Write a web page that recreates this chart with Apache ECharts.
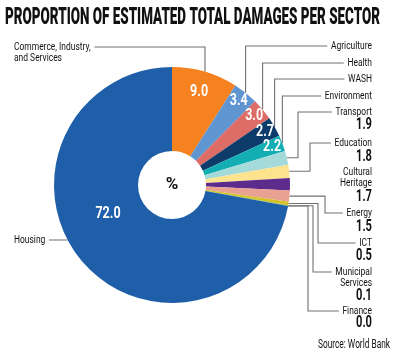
<!DOCTYPE html>
<html><head><meta charset="utf-8">
<script src="https://cdn.jsdelivr.net/npm/echarts@6/dist/echarts.min.js"></script>
<style>html,body{margin:0;padding:0;background:#fff}#c{width:400px;height:359px}</style>
</head><body><div id="c"></div><script>
// ---- data ----
const categories = ['Commerce, Industry, and Services','Agriculture','Health','WASH','Environment','Transport','Education','Cultural Heritage','Energy','ICT','Municipal Services','Finance','Housing'];
const values = [9.0, 3.4, 3.0, 2.7, 2.2, 1.9, 1.8, 1.7, 1.5, 0.5, 0.1, 0.0, 72.0];
const labelNames = [['Commerce, Industry,','and Services'],['Agriculture'],['Health'],['WASH'],['Environment'],['Transport'],['Education'],['Cultural','Heritage'],['Energy'],['ICT'],['Municipal','Services'],['Finance'],['Housing']];
const titleText = 'PROPORTION OF ESTIMATED TOTAL DAMAGES PER SECTOR';
const sourceText = 'Source: World Bank';
const centerText = '%';

// ---- styles / layout ----
const colors = ['#f5821f','#5f96d2','#dd6b66','#0d3c6b','#13aeb3','#a5dada','#fde38d','#5c2b8c','#e9a192','#d6c12a','#8bbf3a','#444444','#1f5faa'];
const FONT = 'Roboto, "Noto Sans", sans-serif';
const place = [
  {type:'left', y:47, inner:97},
  {type:'up', y:46, inner:107},
  {type:'up', y:63, inner:107},
  {type:'up', y:79, inner:107},
  {type:'up', y:96, inner:107},
  {type:'elbow', y:112, vy:125, vx:298},
  {type:'elbow', y:143, vy:157, vx:310},
  {type:'none', y:172, vy:197},
  {type:'elbow', y:213, vy:227, vx:325},
  {type:'elbow', y:243, vy:256, vx:318},
  {type:'elbow', y:272, vy:296, vx:313},
  {type:'elbow', y:311, vy:323, vx:308},
  {type:'housing', y:240}
];
const RIGHT_X = 372, LEFT_X = 14;

// condensing factors from measured target widths
const cv = document.createElement('canvas').getContext('2d');
function meas(font, t){ cv.font = font; return cv.measureText(t).width; }
const F_NAME = '11.5px ' + FONT, F_VAL = 'bold 17px ' + FONT, F_IN = 'bold 16px ' + FONT, F_TITLE = '900 23px ' + FONT, F_SRC = '12px ' + FONT;
const SX_NAME = 41 / meas(F_NAME, 'Agriculture');
const SX_VAL = 16 / meas(F_VAL, '1.9');
const SX_IN = 18 / meas(F_IN, '9.0');
const SX_TITLE = 375 / meas(F_TITLE, titleText);
const SX_SRC = 72 / meas(F_SRC, sourceText);

const chart = echarts.init(document.getElementById('c'));
chart.setOption({
  animation:false,
  series:[{
    type:'pie', center:[172,185], radius:[34,118], startAngle:90, clockwise:true,
    silent:true, avoidLabelOverlap:false,
    label:{show:false}, labelLine:{show:false},
    itemStyle:{borderWidth:0},
    data: categories.map((c,i)=>({name:c, value:values[i], itemStyle:{color:colors[i]}}))
  }]
});

const data = chart.getModel().getSeriesByIndex(0).getData();
const els = [];
const lineStyle = {stroke:'#707070', lineWidth:1.1, fill:null};
function txt(x, y, t, font, sx, align, color, bg){
  const st = {text:t, font, fill:color||'#111', align, verticalAlign:'middle'};
  if (bg){ st.backgroundColor = '#fff'; st.padding = align==='right' ? [0,0,0,5] : [0,5,0,0]; }
  return {type:'text', x, y, z:10, scaleX:sx, scaleY:1, style:st};
}
els.push(txt(5, 18, titleText, F_TITLE, SX_TITLE, 'left', '#111'));
const L0 = data.getItemLayout(0);
const cx = L0.cx, cy = L0.cy, R = L0.r;
els.push(txt(cx, cy, centerText, 'bold 17px ' + FONT, 1, 'center', '#111'));

for (let i=0;i<categories.length;i++){
  const L = data.getItemLayout(i);
  const a = (L.startAngle + L.endAngle)/2;
  const px = cx + R*Math.cos(a), py = cy + R*Math.sin(a);
  const p = place[i];
  const vstr = values[i].toFixed(1);
  const names = labelNames[i];
  if (p.inner){
    els.push(txt(cx + p.inner*Math.cos(a), cy + p.inner*Math.sin(a), vstr, F_IN, SX_IN, 'center', '#fff'));
  }
  if (p.type==='left'){
    els.push({type:'polyline', z:1, shape:{points:[[px,py],[px,p.y],[LEFT_X+20,p.y]]}, style:lineStyle});
    els.push(txt(LEFT_X, p.y, names[0], F_NAME, SX_NAME, 'left', '#111', true));
    els.push(txt(LEFT_X, p.y+11, names[1], F_NAME, SX_NAME, 'left', '#111'));
  } else if (p.type==='housing'){
    const ex = cx - Math.sqrt(R*R - (p.y-cy)*(p.y-cy));
    els.push({type:'polyline', z:1, shape:{points:[[ex,p.y],[LEFT_X+20,p.y]]}, style:lineStyle});
    els.push(txt(LEFT_X, p.y, names[0], F_NAME, SX_NAME, 'left', '#111', true));
    els.push(txt(cx-64, cy+29, vstr, F_IN, SX_IN, 'center', '#fff'));
  } else {
    if (p.type==='up'){
      els.push({type:'polyline', z:1, shape:{points:[[px,py],[px,p.y],[RIGHT_X-10,p.y]]}, style:lineStyle});
    } else if (p.type==='elbow'){
      els.push({type:'polyline', z:1, shape:{points:[[px,py],[p.vx,py],[p.vx,p.y],[RIGHT_X-10,p.y]]}, style:lineStyle});
    }
    names.forEach((t,k)=>{
      els.push(txt(RIGHT_X, p.y+11*k, t, F_NAME, SX_NAME, 'right', '#111', k===0));
    });
    if (p.vy) els.push(txt(RIGHT_X, p.vy, vstr, F_VAL, SX_VAL, 'right', '#111'));
  }
}
els.push(txt(390, 345, sourceText, F_SRC, SX_SRC, 'right', '#111'));
chart.setOption({graphic:{elements:els}});
</script></body></html>
